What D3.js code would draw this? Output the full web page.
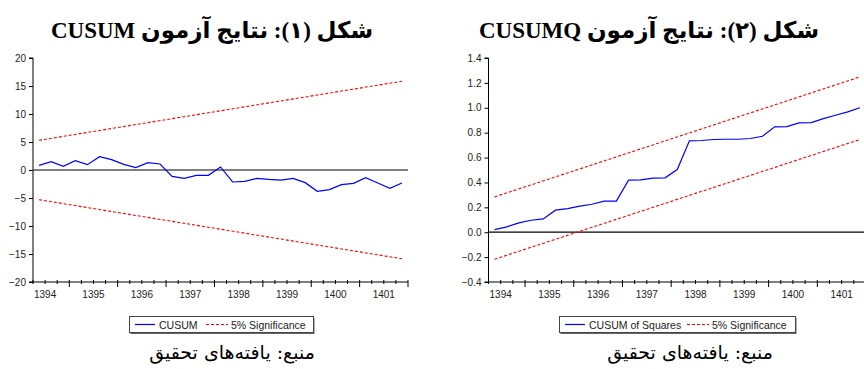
<!DOCTYPE html>
<html><head><meta charset="utf-8">
<script src="https://cdn.jsdelivr.net/npm/d3@7"></script>
<style>
html,body{margin:0;padding:0;background:#fff;}
svg{display:block;}
</style></head>
<body>
<svg id="c" width="864" height="369"></svg>
<script>
// ---------- DATA ----------
const quarters = ["1394Q2","1394Q3","1394Q4","1395Q1","1395Q2","1395Q3","1395Q4","1396Q1","1396Q2","1396Q3","1396Q4",
  "1397Q1","1397Q2","1397Q3","1397Q4","1398Q1","1398Q2","1398Q3","1398Q4","1399Q1","1399Q2","1399Q3","1399Q4",
  "1400Q1","1400Q2","1400Q3","1400Q4","1401Q1","1401Q2","1401Q3","1401Q4"];
const yearLabels = ["1394","1395","1396","1397","1398","1399","1400","1401"];

const cusum = [0.83,1.49,0.65,1.67,0.95,2.38,1.85,1.01,0.42,1.31,1.07,-1.13,-1.49,-0.95,-0.95,0.54,
  -2.14,-2.02,-1.49,-1.67,-1.79,-1.49,-2.26,-3.81,-3.51,-2.62,-2.38,-1.37,-2.32,-3.27,-2.32];
const cusumUpper = [5.3, 15.85];   // at first and last quarter
const cusumLower = [-5.3, -15.85];
const cusumTicks = [-20,-15,-10,-5,0,5,10,15,20];

const cusumq = [0.021,0.043,0.075,0.096,0.107,0.177,0.19,0.21,0.225,0.25,0.25,0.418,0.42,0.435,0.437,0.504,
  0.734,0.737,0.745,0.747,0.747,0.753,0.771,0.847,0.849,0.879,0.881,0.913,0.94,0.967,1.0];
const cusumqUpper = [0.284, 1.248];
const cusumqLower = [-0.217, 0.745];
const cusumqTicks = [-0.4,-0.2,0.0,0.2,0.4,0.6,0.8,1.0,1.2,1.4];

const titles = ["شکل (۱): نتایج آزمون CUSUM", "شکل (۲): نتایج آزمون CUSUMQ"];
const sourceText = "منبع: یافته\u200Cهای تحقیق";
const legendNames = [["CUSUM","5% Significance"],["CUSUM of Squares","5% Significance"]];

// ---------- HELPERS ----------
const svg = d3.select("#c");
function qTime(q){ const y=+q.slice(0,4), k=+q.slice(5); return y + (k-0.5)/4; }
const tFirst = qTime(quarters[0]), tLast = qTime(quarters[quarters.length-1]);

function drawPanel(cfg){
  const g = svg.append("g");
  const x = d3.scaleLinear().domain([1394.25,1402]).range([cfg.x0,cfg.x1]);
  const y = d3.scaleLinear().domain(cfg.ydom).range([282,58]);
  const yb = 282;

  // y axis
  const ya = d3.axisLeft(y).tickValues(cfg.yticks).tickSize(4).tickPadding(3).tickFormat(cfg.fmt);
  const gy = g.append("g").attr("transform",`translate(${cfg.x0},0)`).call(ya);
  gy.select(".domain").attr("stroke","#000").attr("d",`M-4,${y(cfg.ydom[1])}H0V${yb}H-4`);
  gy.selectAll(".tick line").attr("stroke","#000");
  gy.selectAll("text").attr("font-family","Liberation Sans, Arial, sans-serif").attr("font-size",10).attr("fill","#222");

  // zero line
  g.append("line").attr("x1",cfg.x0).attr("x2",cfg.x1).attr("y1",y(0)).attr("y2",y(0))
    .attr("stroke",cfg.zeroColor).attr("stroke-width",cfg.zeroWidth);

  // x axis
  g.append("line").attr("x1",cfg.x0).attr("x2",cfg.x1).attr("y1",yb).attr("y2",yb).attr("stroke","#000");
  const qt = d3.range(1394.25*4, 1402*4+1).map(v=>v/4);
  qt.forEach(t=>{
    const major = Math.abs(t-Math.round(t))<1e-9;
    g.append("line").attr("x1",x(t)).attr("x2",x(t))
      .attr("y1",yb-2).attr("y2",yb+(major?5:2)).attr("stroke","#000");
  });
  yearLabels.forEach(l=>{
    g.append("text").attr("x",x(+l+0.5)).attr("y",298).attr("text-anchor","middle")
      .attr("font-family","Liberation Sans, Arial, sans-serif").attr("font-size",10).attr("fill","#222").text(l);
  });

  // bounds
  const bl = d3.line().x(d=>x(d[0])).y(d=>y(d[1]));
  [cfg.upper,cfg.lower].forEach(b=>{
    g.append("path").attr("d",bl([[tFirst,b[0]],[tLast,b[1]]]))
      .attr("fill","none").attr("stroke","#ff0000").attr("stroke-width",1.1).attr("stroke-dasharray","3,2");
  });
  // series
  const sl = d3.line().x((d,i)=>x(qTime(quarters[i]))).y(d=>y(d));
  g.append("path").attr("d",sl(cfg.values)).attr("fill","none").attr("stroke","#0000ff").attr("stroke-width",1.2);

  // legend
  const L = cfg.legend;
  g.append("rect").attr("x",L.x+1.5).attr("y",316.5+1.5).attr("width",L.w).attr("height",16).attr("fill","#666");
  g.append("rect").attr("x",L.x+0.5).attr("y",316.5).attr("width",L.w).attr("height",16).attr("fill","#fff").attr("stroke","#444");
  g.append("line").attr("x1",L.x+6).attr("x2",L.x+26).attr("y1",324.5).attr("y2",324.5).attr("stroke","#0000ff").attr("stroke-width",1.2);
  g.append("text").attr("x",L.x+30).attr("y",328.5).attr("font-family","Liberation Sans, Arial, sans-serif")
    .attr("font-size",10.5).attr("fill","#222").text(cfg.names[0]);
  g.append("line").attr("x1",L.r0).attr("x2",L.r0+22).attr("y1",324.5).attr("y2",324.5).attr("stroke","#ff0000")
    .attr("stroke-width",1.1).attr("stroke-dasharray","3,2");
  g.append("text").attr("x",L.r0+25).attr("y",328.5).attr("font-family","Liberation Sans, Arial, sans-serif")
    .attr("font-size",10.5).attr("fill","#222").text(cfg.names[1]);

  // title
  g.append("text").attr("x",cfg.tcx).attr("y",38).attr("text-anchor","middle").attr("direction","rtl")
    .attr("font-family","Liberation Serif, DejaVu Sans, serif").attr("font-weight","bold").attr("font-size",23)
    .attr("fill","#000").text(cfg.title);
  // source
  g.append("text").attr("x",cfg.scx).attr("y",359).attr("text-anchor","middle").attr("direction","rtl")
    .attr("font-family","DejaVu Serif, DejaVu Sans, serif").attr("font-size",19)
    .attr("fill","#000").text(sourceText);
}

drawPanel({x0:33,x1:408,ydom:[-20,20],yticks:cusumTicks,fmt:d3.format("d"),values:cusum,
  upper:cusumUpper,lower:cusumLower,zeroColor:"#555",zeroWidth:1.5,
  legend:{x:129,w:184,r0:206},names:legendNames[0],title:titles[0],tcx:212,scx:232});
drawPanel({x0:488.5,x1:866,ydom:[-0.4,1.4],yticks:cusumqTicks,fmt:d3.format(".1f"),values:cusumq,
  upper:cusumqUpper,lower:cusumqLower,zeroColor:"#000",zeroWidth:1.2,
  legend:{x:559,w:236,r0:687},names:legendNames[1],title:titles[1],tcx:649,scx:690});
</script>
</body></html>
